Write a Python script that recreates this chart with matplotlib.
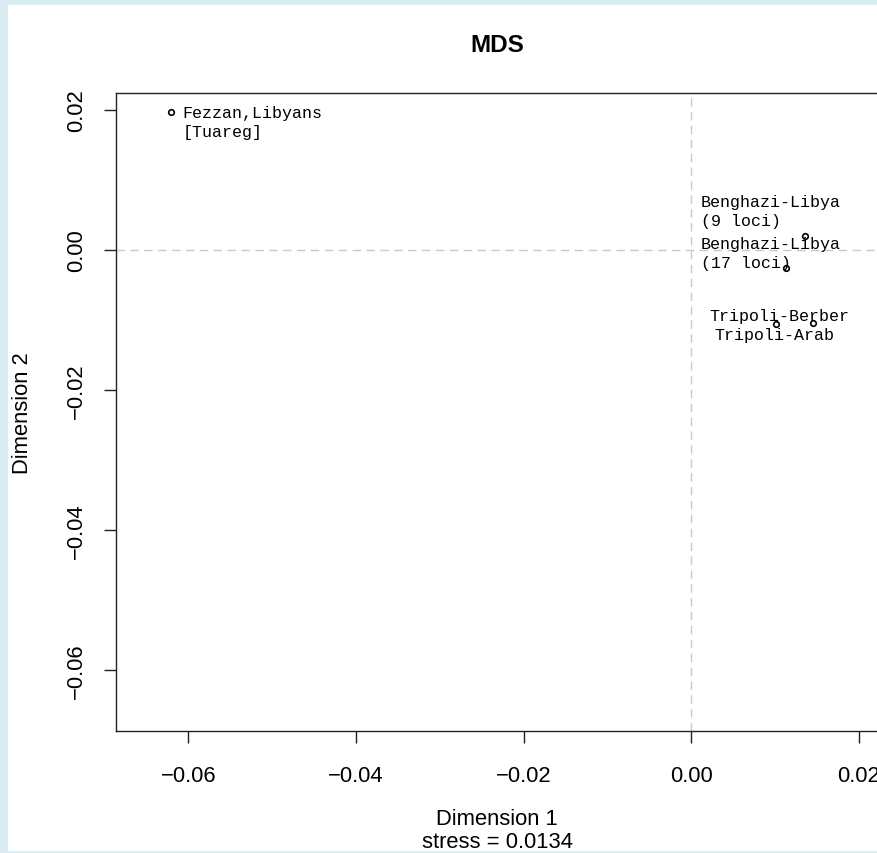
import matplotlib
matplotlib.use("Agg")
import matplotlib.pyplot as plt
from matplotlib.patches import Rectangle

# MDS coordinates
names = ["Fezzan,Libyans\n[Tuareg]", "Benghazi-Libya\n(9 loci)", "Benghazi-Libya\n(17 loci)",
         "Tripoli-Berber", "Tripoli-Arab"]
dim1 = [-0.0620, 0.0136, 0.0113, 0.0101, 0.0145]
dim2 = [0.0197, 0.0020, -0.0026, -0.0106, -0.0104]

# where the labels sit (left edge, vertical centre), as in the repelled layout
label_x = [-0.0607, 0.0011, 0.0011, 0.0021, 0.0027]
label_y = [0.0183, 0.0056, -0.0004, -0.0093, -0.0120]

xticks = [-0.06, -0.04, -0.02, 0.00, 0.02]
yticks = [-0.06, -0.04, -0.02, 0.00, 0.02]
stress = 0.0134


def fmt(v):
    # R draws a real minus sign
    return ("%.2f" % v).replace("-", "\u2212")


W, H = 878, 854
fig = plt.figure(figsize=(W / 100, H / 100), dpi=100, facecolor="#d8ecf2")
fig.patches.append(Rectangle((8 / W, 2 / H), 1, 1 - 8 / H, transform=fig.transFigure,
                             facecolor="white", edgecolor="none", zorder=-5))

ax = fig.add_axes([116 / W, (H - 732) / H, (880 - 116) / W, (732 - 94) / H])
ax.set_zorder(2)
ax.set_xlim(-0.06862, 0.02251)
ax.set_ylim(-0.06871, 0.02243)

ax.axhline(0, color="#c8c8c8", lw=1, dashes=(6, 4), zorder=1)
ax.axvline(0, color="#c8c8c8", lw=1, dashes=(6, 4), zorder=1)

ax.plot(dim1, dim2, "o", ms=4, mfc="none", mec="black", mew=1.2, zorder=3)
for name, lx, ly in zip(names, label_x, label_y):
    ax.text(lx, ly, name, family="Liberation Mono", fontsize=12, ha="left", va="center",
            linespacing=1.3, zorder=4)

ax.set_xticks(xticks)
ax.set_xticklabels([fmt(v) for v in xticks], family="Liberation Sans", fontsize=15.8)
ax.set_yticks(yticks)
ax.set_yticklabels([fmt(v) for v in yticks], family="Liberation Sans", fontsize=15.8,
                   rotation=90, va="center")
ax.tick_params(axis="x", length=8.5, width=1, pad=16, color="#222222")
ax.tick_params(axis="y", length=8.5, width=1, pad=12.5, color="#222222")
for s in ax.spines.values():
    s.set_linewidth(1)
    s.set_color("#222222")

fig.text(497 / W, 1 - 45 / H, "MDS", family="Liberation Sans", fontsize=17.5,
         fontweight="bold", ha="center", va="center")
fig.text(497 / W, 1 - 820 / H, "Dimension 1", family="Liberation Sans", fontsize=15.8,
         ha="center", va="center")
fig.text(497 / W, 1 - 843 / H, "stress = %.4f" % stress, family="Liberation Sans",
         fontsize=15.8, ha="center", va="center")
fig.text(23 / W, 1 - 413 / H, "Dimension 2", family="Liberation Sans", fontsize=15.8,
         rotation=90, ha="center", va="center")

fig.savefig("out.png", dpi=100, facecolor=fig.get_facecolor())
